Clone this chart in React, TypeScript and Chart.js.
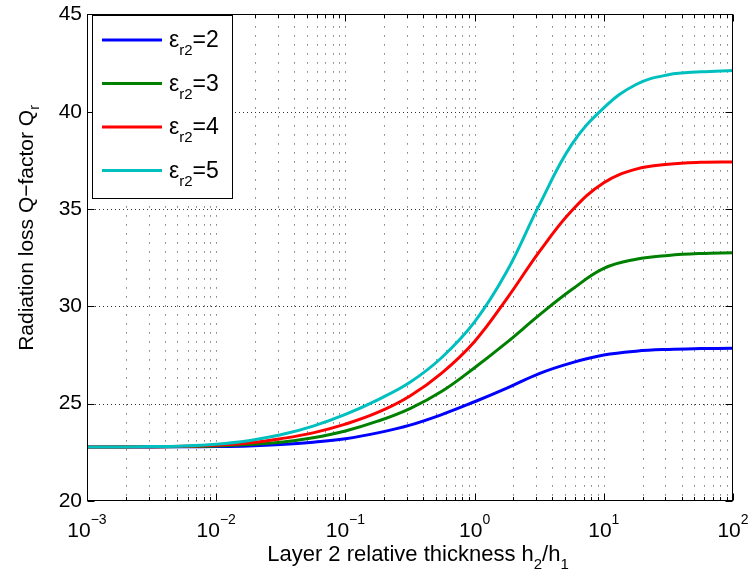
import React, { useEffect, useRef } from "react";
import { Chart, registerables } from "chart.js";

Chart.register(...registerables);

// h2/h1 sample positions (quarter decades from 1e-3 to 1e2)
const xValues = [
  0.001, 0.001778, 0.003162, 0.005623, 0.01, 0.01778, 0.03162, 0.05623, 0.1, 0.1778,
  0.3162, 0.5623, 1, 1.778, 3.162, 5.623, 10, 17.78, 31.62, 56.23, 100,
];

// Radiation loss Q-factor for each relative permittivity of layer 2
const qEps2 = [
  22.78, 22.78, 22.78, 22.79, 22.8, 22.83, 22.9, 23.02, 23.2, 23.5,
  23.9, 24.45, 25.1, 25.8, 26.55, 27.1, 27.5, 27.7, 27.79, 27.83, 27.85,
];
const qEps3 = [
  22.78, 22.78, 22.79, 22.8, 22.83, 22.9, 23.02, 23.25, 23.6, 24.1,
  24.75, 25.65, 26.85, 28.15, 29.55, 30.85, 31.95, 32.42, 32.62, 32.72, 32.76,
];
const qEps4 = [
  22.78, 22.78, 22.79, 22.81, 22.86, 22.98, 23.2, 23.5, 23.95, 24.55,
  25.4, 26.6, 28.2, 30.4, 32.8, 34.9, 36.35, 37.05, 37.3, 37.4, 37.42,
];
const qEps5 = [
  22.78, 22.78, 22.8, 22.83, 22.92, 23.1, 23.4, 23.85, 24.45, 25.2,
  26.1, 27.4, 29.2, 31.8, 35.2, 38.3, 40.2, 41.4, 41.9, 42.05, 42.12,
];

const seriesValues = [qEps2, qEps3, qEps4, qEps5];
const seriesLabels = ["2", "3", "4", "5"];
const seriesColors = ["#0000ff", "#008000", "#ff0000", "#00bfbf"];

const xTickExponents = [-3, -2, -1, 0, 1, 2];
const yTicks = [20, 25, 30, 35, 40, 45];

const xTitleMain = "Layer 2 relative thickness h";
const xTitleSub1 = "2";
const xTitleMid = "/h";
const xTitleSub2 = "1";
const yTitleMain = "Radiation loss Q\u2212factor Q";
const yTitleSub = "r";
const legendSymbol = "\u03b5";
const legendSub = "r2";

const FONT = '"Liberation Sans", Arial, Helvetica, sans-serif';
const TICK_PX = 21;
const EXP_PX = 14;
const XTITLE_PX = 22;
const YTITLE_PX = 21;
const SUB_PX = 14;
const LEG_PX = 23;
const LEG_SUB_PX = 15;

const matlabPlugin = {
  id: "matlabLook",
  beforeDatasetsDraw(chart: any) {
    const { ctx, chartArea: a, scales } = chart;
    const xs = scales.x;
    const ys = scales.y;
    ctx.save();
    ctx.strokeStyle = "#333";
    ctx.lineWidth = 1;
    // vertical dotted grid (major + minor decades)
    ctx.setLineDash([1, 8]);
    for (let e = xTickExponents[0]; e < xTickExponents[xTickExponents.length - 1]; e++) {
      for (let m = 1; m <= 9; m++) {
        const v = m * Math.pow(10, e);
        if (m === 1 && e === xTickExponents[0]) continue;
        const px = Math.round(xs.getPixelForValue(v)) + 0.5;
        ctx.beginPath();
        ctx.moveTo(px, a.top + 3);
        ctx.lineTo(px, a.bottom);
        ctx.stroke();
      }
    }
    // horizontal dotted grid
    ctx.setLineDash([1, 3]);
    for (const t of yTicks) {
      if (t === yTicks[0] || t === yTicks[yTicks.length - 1]) continue;
      const py = Math.round(ys.getPixelForValue(t)) + 0.5;
      ctx.beginPath();
      ctx.moveTo(a.left, py);
      ctx.lineTo(a.right, py);
      ctx.stroke();
    }
    ctx.restore();
  },
  afterDatasetsDraw(chart: any) {
    const { ctx, chartArea: a, scales } = chart;
    const xs = scales.x;
    const ys = scales.y;
    ctx.save();
    ctx.setLineDash([]);
    ctx.strokeStyle = "#000";
    ctx.lineWidth = 1;
    const L = Math.round(a.left) + 0.5;
    const R = Math.round(a.right) - 0.5;
    const T = Math.round(a.top) + 0.5;
    const B = Math.round(a.bottom) - 0.5;
    // inward ticks on x (top and bottom)
    for (let e = xTickExponents[0]; e <= xTickExponents[xTickExponents.length - 1]; e++) {
      for (let m = 1; m <= 9; m++) {
        const v = m * Math.pow(10, e);
        if (v > Math.pow(10, xTickExponents[xTickExponents.length - 1])) break;
        const px = Math.round(xs.getPixelForValue(v)) + 0.5;
        const len = m === 1 ? 7 : 3.5;
        ctx.beginPath();
        ctx.moveTo(px, B);
        ctx.lineTo(px, B - len);
        ctx.moveTo(px, T);
        ctx.lineTo(px, T + len);
        ctx.stroke();
      }
    }
    // inward ticks on y (left and right)
    for (const t of yTicks) {
      const py = Math.round(ys.getPixelForValue(t)) + 0.5;
      ctx.beginPath();
      ctx.moveTo(L, py);
      ctx.lineTo(L + 7, py);
      ctx.moveTo(R, py);
      ctx.lineTo(R - 7, py);
      ctx.stroke();
    }
    // frame
    ctx.strokeRect(L, T, R - L, B - T);

    ctx.fillStyle = "#000";
    ctx.textBaseline = "alphabetic";
    ctx.textAlign = "left";
    // x tick labels: 10^e
    for (const e of xTickExponents) {
      const px = xs.getPixelForValue(Math.pow(10, e));
      const base = "10";
      const exp = e < 0 ? "\u2212" + Math.abs(e) : String(e);
      ctx.font = `${TICK_PX}px ${FONT}`;
      const w1 = ctx.measureText(base).width;
      ctx.font = `${EXP_PX}px ${FONT}`;
      const w2 = ctx.measureText(exp).width;
      const x0 = px - (w1 + w2) / 2;
      ctx.font = `${TICK_PX}px ${FONT}`;
      ctx.fillText(base, x0, 537);
      ctx.font = `${EXP_PX}px ${FONT}`;
      ctx.fillText(exp, x0 + w1, 524);
    }

    // x title with subscripts
    {
      const parts = [
        { t: xTitleMain, s: XTITLE_PX, dy: 0 },
        { t: xTitleSub1, s: SUB_PX + 1, dy: 8 },
        { t: xTitleMid, s: XTITLE_PX, dy: 0 },
        { t: xTitleSub2, s: SUB_PX + 1, dy: 8 },
      ];
      let total = 0;
      for (const p of parts) {
        ctx.font = `${p.s}px ${FONT}`;
        total += ctx.measureText(p.t).width;
      }
      let x = (a.left + a.right) / 2 + 8 - total / 2;
      for (const p of parts) {
        ctx.font = `${p.s}px ${FONT}`;
        ctx.fillText(p.t, x, 561 + p.dy);
        x += ctx.measureText(p.t).width;
      }
    }

    // y title (rotated) with subscript
    {
      ctx.save();
      ctx.translate(33, 228);
      ctx.rotate(-Math.PI / 2);
      ctx.font = `${YTITLE_PX}px ${FONT}`;
      const w1 = ctx.measureText(yTitleMain).width;
      ctx.font = `${SUB_PX}px ${FONT}`;
      const w2 = ctx.measureText(yTitleSub).width;
      const x0 = -(w1 + w2) / 2;
      ctx.font = `${YTITLE_PX}px ${FONT}`;
      ctx.fillText(yTitleMain, x0, 0);
      ctx.font = `${SUB_PX}px ${FONT}`;
      ctx.fillText(yTitleSub, x0 + w1, 6);
      ctx.restore();
    }

    // legend box
    {
      const bx = 92.5, by = 15.5, bw = 140, bh = 183;
      ctx.fillStyle = "#fff";
      ctx.fillRect(bx, by, bw, bh);
      ctx.strokeStyle = "#000";
      ctx.lineWidth = 1;
      ctx.strokeRect(bx, by, bw, bh);
      const rows = [40, 83.5, 127, 170.5];
      seriesLabels.forEach((lab, i) => {
        const ly = rows[i];
        ctx.strokeStyle = seriesColors[i];
        ctx.lineWidth = 3;
        ctx.beginPath();
        ctx.moveTo(102, ly);
        ctx.lineTo(162, ly);
        ctx.stroke();
        ctx.fillStyle = "#000";
        let x = 169;
        const base = ly + 7;
        ctx.font = `${LEG_PX}px ${FONT}`;
        ctx.fillText(legendSymbol, x, base);
        x += ctx.measureText(legendSymbol).width;
        ctx.font = `${LEG_SUB_PX}px ${FONT}`;
        ctx.fillText(legendSub, x, base + 8);
        x += ctx.measureText(legendSub).width;
        ctx.font = `${LEG_PX}px ${FONT}`;
        ctx.fillText("=" + lab, x, base);
      });
    }
    ctx.restore();
  },
};

export default function App() {
  const canvasRef = useRef<HTMLCanvasElement | null>(null);

  useEffect(() => {
    const canvas = canvasRef.current;
    if (!canvas) return;
    const order = [3, 2, 1, 0];
    const chart = new Chart(canvas, {
      type: "line",
      data: {
        datasets: seriesValues.map((vals, i) => ({
          label: "\u03b5r2=" + seriesLabels[i],
          data: xValues.map((x, j) => ({ x, y: vals[j] })),
          borderColor: seriesColors[i],
          backgroundColor: seriesColors[i],
          borderWidth: 3,
          pointRadius: 0,
          fill: false,
          tension: 0.4,
          order: order[i],
        })),
      },
      options: {
        animation: false,
        responsive: false,
        devicePixelRatio: 1,
        layout: { padding: { top: 10, right: 16, left: 0, bottom: 0 } },
        plugins: {
          legend: { display: false },
          tooltip: { enabled: false },
        },
        scales: {
          x: {
            type: "logarithmic",
            min: 0.001,
            max: 100,
            grid: { display: false, drawTicks: false },
            border: { display: false },
            ticks: { display: false },
            afterFit: (s: any) => {
              s.height = 83;
            },
          },
          y: {
            type: "linear",
            min: yTicks[0],
            max: yTicks[yTicks.length - 1],
            grid: { display: false, drawTicks: false },
            border: { display: false },
            ticks: {
              stepSize: 5,
              padding: 5,
              color: "#000",
              font: { family: FONT, size: TICK_PX, lineHeight: 0.9 },
            },
            afterFit: (s: any) => {
              s.width = 87;
            },
          },
        },
      },
      plugins: [matlabPlugin],
    });
    return () => chart.destroy();
  }, []);

  return (
    <div style={{ position: "absolute", left: 0, top: 0, width: 749, height: 584, background: "#fff" }}>
      <canvas ref={canvasRef} width={749} height={584} style={{ display: "block" }} />
    </div>
  );
}
